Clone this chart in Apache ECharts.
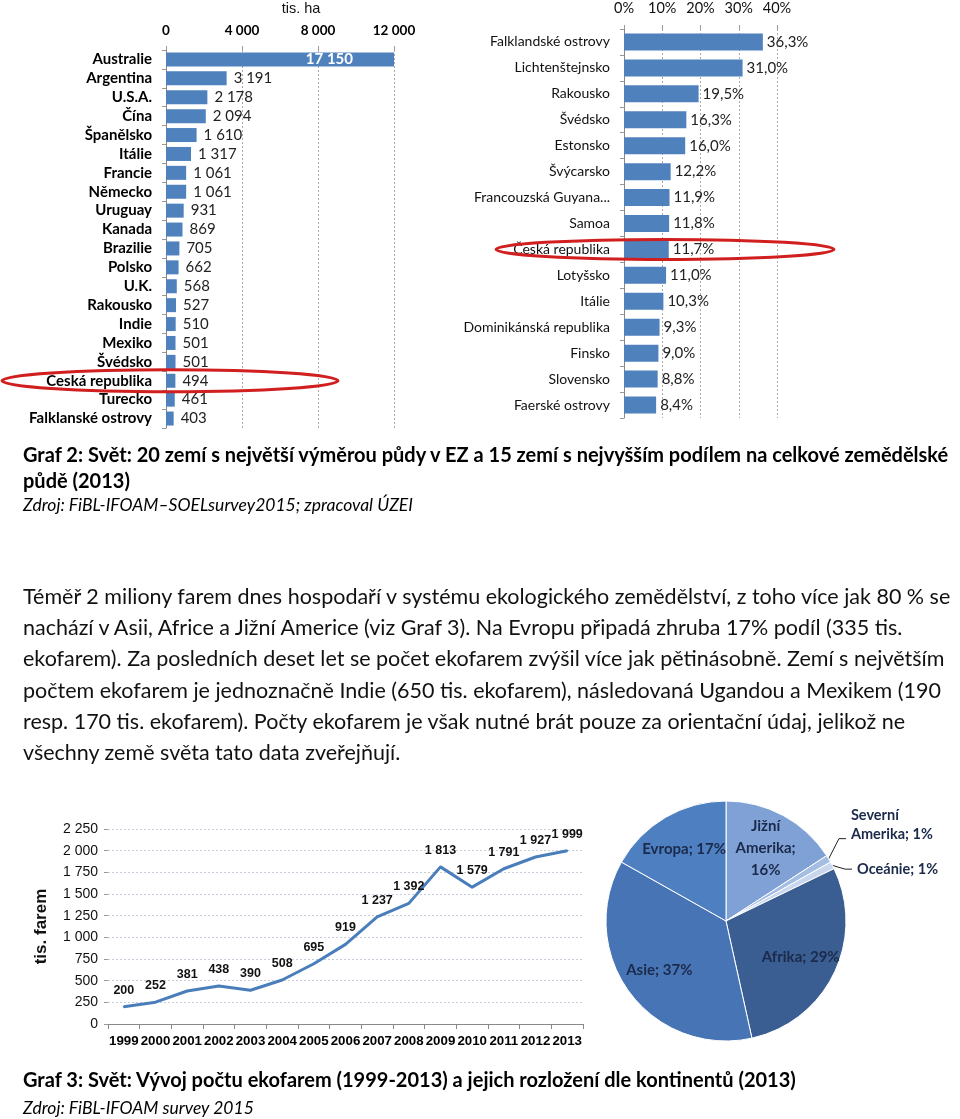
<!DOCTYPE html>
<html><head><meta charset="utf-8">
<script src="https://cdn.jsdelivr.net/npm/echarts@6/dist/echarts.min.js"></script>
<style>
html,body{margin:0;padding:0;background:#fff;}
#wrap{position:relative;width:960px;height:1119px;overflow:hidden;background:#fff;}
#chart{position:absolute;left:0;top:0;width:960px;height:1119px;}
.t{position:absolute;left:23px;white-space:pre;font-family:Lato,'Open Sans',sans-serif;color:#000;}
</style></head><body>
<div id="wrap">
<div id="chart"></div>
<div class="t" style="top:441px;font-weight:bold;font-size:20px;line-height:26px;">Graf 2: Svět: 20 zemí s největší výměrou půdy v EZ a 15 zemí s nejvyšším podílem na celkové zemědělské
půdě (2013)</div>
<div class="t" style="top:493px;font-style:italic;font-size:17.5px;line-height:24px;">Zdroj: FiBL-IFOAM–SOELsurvey2015; zpracoval ÚZEI</div>
<div class="t" style="top:581px;font-size:21.5px;line-height:31.2px;color:#111;">Téměř 2 miliony farem dnes hospodaří v systému ekologického zemědělství, z toho více jak 80 % se
nachází v Asii, Africe a Jižní Americe (viz Graf 3). Na Evropu připadá zhruba 17% podíl (335 tis.
ekofarem). Za posledních deset let se počet ekofarem zvýšil více jak pětinásobně. Zemí s největším
počtem ekofarem je jednoznačně Indie (650 tis. ekofarem), následovaná Ugandou a Mexikem (190
resp. 170 tis. ekofarem). Počty ekofarem je však nutné brát pouze za orientační údaj, jelikož ne
všechny země světa tato data zveřejňují.</div>
<div class="t" style="top:1066px;font-weight:bold;font-size:20px;line-height:26px;">Graf 3: Svět: Vývoj počtu ekofarem (1999-2013) a jejich rozložení dle kontinentů (2013)</div>
<div class="t" style="top:1096px;font-style:italic;font-size:17.5px;line-height:24px;">Zdroj: FiBL-IFOAM survey 2015</div>
</div>
<script>
// ---- data ----
const areaCountries = ['Australie','Argentina','U.S.A.','Čína','Španělsko','Itálie','Francie','Německo','Uruguay','Kanada','Brazilie','Polsko','U.K.','Rakousko','Indie','Mexiko','Švédsko','Česká republika','Turecko','Falklanské ostrovy'];
const areaValues = [17150,3191,2178,2094,1610,1317,1061,1061,931,869,705,662,568,527,510,501,501,494,461,403];
const shareCountries = ['Falklandské ostrovy','Lichtenštejnsko','Rakousko','Švédsko','Estonsko','Švýcarsko','Francouzská Guyana...','Samoa','Česká republika','Lotyšsko','Itálie','Dominikánská republika','Finsko','Slovensko','Faerské ostrovy'];
const shareValues = [36.3,31.0,19.5,16.3,16.0,12.2,11.9,11.8,11.7,11.0,10.3,9.3,9.0,8.8,8.4];
const years = ['1999','2000','2001','2002','2003','2004','2005','2006','2007','2008','2009','2010','2011','2012','2013'];
const farms = [200,252,381,438,390,508,695,919,1237,1392,1813,1579,1791,1927,1999];
const continents = ['Jižní Amerika','Severní Amerika','Oceánie','Afrika','Asie','Evropa'];
const continentShares = [16,1,1,29,37,17];
const highlightCountry = 'Česká republika';

// ---- styles ----
const pieColors = ['#7FA1D6','#A3BDE3','#C9D7EE','#3A5E91','#4774B4','#4D7FC1'];
const BAR = '#4F81BD';
const FONT = 'Lato';
const AREA_MAX = 12000;

const fmt = v => String(v).replace(/\B(?=(\d{3})+(?!\d))/g, ' ');
const pct = v => v.toFixed(1).replace('.', ',') + '%';

const chart = echarts.init(document.getElementById('chart'));

const pieLabel = p => {
  const parts = p.name.split(' ');
  if (parts.length < 2) return p.name + '; ' + p.value + '%';
  return parts[0] + '\n' + parts[1] + ';' + (p.value >= 5 ? '\n' : ' ') + p.value + '%';
};

// small slices get outside labels; the first of them is lifted higher
const firstSmall = continentShares.findIndex(v => v < 5);

const option = {
  animation: false,
  backgroundColor: 'transparent',
  grid: [
    {left: 166, top: 46, width: 228, height: 382},
    {left: 624, top: 29, width: 153, height: 389},
    {left: 108, top: 829, width: 475, height: 195}
  ],
  xAxis: [
    {gridIndex: 0, type: 'value', position: 'top', min: 0, max: AREA_MAX, interval: 4000,
     name: 'tis. ha', nameLocation: 'middle', nameGap: 34,
     nameTextStyle: {fontFamily: 'Liberation Sans', fontSize: 14.5, color: '#111', padding: [0,0,0,42]},
     axisLine: {show: false}, axisTick: {show: true, length: 4, lineStyle: {color: '#999'}},
     axisLabel: {fontFamily: FONT, fontWeight: 'bold', fontSize: 13.5, color: '#000', margin: 12, formatter: v => fmt(v)},
     splitLine: {show: true, lineStyle: {color: '#aaa', type: [2,2], width: 1}}},
    {gridIndex: 1, type: 'value', position: 'top', min: 0, max: 40, interval: 10,
     axisLine: {show: false}, axisTick: {show: true, length: 4, lineStyle: {color: '#999'}},
     axisLabel: {fontFamily: FONT, fontSize: 14.5, color: '#111', margin: 13, formatter: '{value}%'},
     splitLine: {show: true, lineStyle: {color: '#aaa', type: [2,2], width: 1}}},
    {gridIndex: 2, type: 'category', data: years, boundaryGap: true,
     axisLine: {show: true, lineStyle: {color: '#888', width: 1}},
     axisTick: {show: true, length: 5, lineStyle: {color: '#888'}},
     axisLabel: {fontFamily: 'Liberation Sans', fontWeight: 'bold', fontSize: 13.3, color: '#000', margin: 11, interval: 0}}
  ],
  yAxis: [
    {gridIndex: 0, type: 'category', data: areaCountries, inverse: true,
     axisLine: {show: true, lineStyle: {color: '#888'}},
     axisTick: {show: true, length: 4, lineStyle: {color: '#999'}},
     axisLabel: {fontFamily: FONT, fontWeight: 'bold', fontSize: 15, color: '#000', margin: 14, interval: 0}},
    {gridIndex: 1, type: 'category', data: shareCountries, inverse: true,
     axisLine: {show: true, lineStyle: {color: '#888'}},
     axisTick: {show: true, length: 4, lineStyle: {color: '#999'}},
     axisLabel: {fontFamily: FONT, fontSize: 14, color: '#111', margin: 14, interval: 0}},
    {gridIndex: 2, type: 'value', min: 0, max: 2250, interval: 250,
     name: 'tis. farem', nameLocation: 'middle', nameGap: 58, nameRotate: 90,
     nameTextStyle: {fontFamily: 'Liberation Sans', fontWeight: 'bold', fontSize: 17, color: '#111'},
     axisLine: {show: false}, axisTick: {show: true, length: 4, lineStyle: {color: '#999'}},
     axisLabel: {fontFamily: 'Liberation Sans', fontSize: 14, color: '#111', margin: 10, formatter: v => fmt(v)},
     splitLine: {show: true, lineStyle: {color: '#c5cfdc', type: [2,2], width: 1}}}
  ],
  series: [
    {type: 'bar', xAxisIndex: 0, yAxisIndex: 0, barWidth: 14, clip: true,
     itemStyle: {color: BAR},
     label: {show: true, position: 'right', distance: 7, fontFamily: FONT, fontSize: 15, color: '#222', formatter: p => fmt(p.value)},
     data: areaValues.map(v => v > AREA_MAX
       ? {value: v, label: {position: 'insideRight', distance: 41, color: '#fff', fontWeight: 'bold'}}
       : v)},
    {type: 'bar', xAxisIndex: 1, yAxisIndex: 1, barWidth: 17,
     itemStyle: {color: BAR},
     label: {show: true, position: 'right', distance: 4, fontFamily: FONT, fontSize: 15, color: '#222', formatter: p => pct(p.value)},
     data: shareValues},
    {type: 'line', xAxisIndex: 2, yAxisIndex: 2, data: farms,
     symbol: 'circle', symbolSize: 2, itemStyle: {color: '#4A7EBB'},
     lineStyle: {color: '#4A7EBB', width: 3},
     label: {show: true, position: 'top', distance: 9, fontFamily: 'Liberation Sans', fontWeight: 'bold', fontSize: 12.5, color: '#111', formatter: p => fmt(p.value)}},
    {type: 'pie', center: [726, 921], radius: [0, 120], startAngle: 90, clockwise: true,
     avoidLabelOverlap: true,
     itemStyle: {borderColor: '#fff', borderWidth: 1},
     label: {position: 'outside', overflow: 'none', fontFamily: FONT, fontWeight: 'bold', fontSize: 14.5, color: '#1B2A4A', formatter: pieLabel, lineHeight: 19},
     labelLine: {length: 12, length2: 7, lineStyle: {color: '#222', width: 1}},
     labelLayout: p => {
       const dy = p.dataIndex === firstSmall ? -14 : 0;
       const pts = p.labelLinePoints;
       if (!pts || pts.length < 3) return {dy};
       return {dy, labelLinePoints: [pts[0], [pts[1][0], pts[1][1] + dy], [pts[2][0], pts[2][1] + dy]]};
     },
     data: continents.map((n, i) => ({name: n, value: continentShares[i], itemStyle: {color: pieColors[i]},
       label: {show: continentShares[i] < 5},
       labelLine: {show: continentShares[i] < 5}}))},
    {type: 'pie', center: [726, 921], radius: [0, 160], startAngle: 90, clockwise: true, silent: true, z: 5,
     itemStyle: {color: 'rgba(0,0,0,0)', borderWidth: 0},
     label: {position: 'inside', fontFamily: FONT, fontWeight: 'bold', fontSize: 15, color: '#1B2A4A', formatter: pieLabel, lineHeight: 22},
     labelLine: {show: false},
     data: continents.map((n, i) => ({name: n, value: continentShares[i], label: {show: continentShares[i] >= 5}}))}
  ]
};
chart.setOption(option);

// highlight ellipses around the Czech Republic rows
const yL = chart.convertToPixel({yAxisIndex: 0}, highlightCountry);
const yR = chart.convertToPixel({yAxisIndex: 1}, highlightCountry);
chart.setOption({graphic: [
  {type: 'ellipse', shape: {cx: 170, cy: yL, rx: 168, ry: 11}, style: {fill: 'none', stroke: '#d11f1f', lineWidth: 3}, z: 100},
  {type: 'ellipse', shape: {cx: 665, cy: yR, rx: 169, ry: 10}, style: {fill: 'none', stroke: '#d11f1f', lineWidth: 3}, z: 100}
]});
</script>
</body></html>
